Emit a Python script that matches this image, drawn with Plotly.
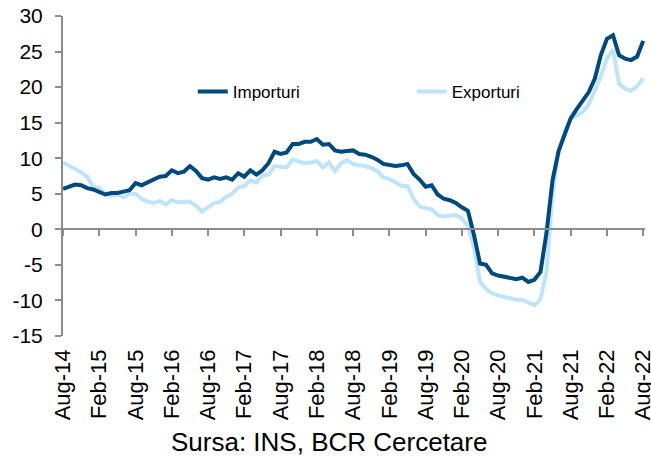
import plotly.graph_objects as go

# monthly categories Aug-14 .. Aug-22
month_names = ["Jan", "Feb", "Mar", "Apr", "May", "Jun", "Jul", "Aug", "Sep", "Oct", "Nov", "Dec"]
months = [f"{month_names[(7 + k) % 12]}-{14 + (7 + k) // 12}" for k in range(97)]

importuri = [5.7, 6.0, 6.3, 6.2, 5.8, 5.6, 5.3, 4.9, 5.1, 5.1,
             5.3, 5.5, 6.5, 6.2, 6.6, 7.0, 7.4, 7.5, 8.3, 7.9,
             8.1, 8.9, 8.2, 7.2, 7.0, 7.3, 7.1, 7.3, 7.0, 7.9,
             7.4, 8.3, 7.7, 8.3, 9.3, 10.9, 10.6, 10.8, 12.0, 12.0,
             12.3, 12.3, 12.7, 11.9, 12.0, 11.1, 10.9, 11.0, 11.1, 10.6,
             10.5, 10.2, 9.8, 9.2, 9.0, 8.9, 9.0, 9.2, 7.8, 7.0,
             6.0, 6.2, 4.9, 4.3, 4.1, 3.7, 3.1, 2.6, -0.8, -4.8,
             -5.0, -6.2, -6.5, -6.7, -6.8, -7.0, -6.8, -7.4, -7.1, -6.0,
             -0.5, 6.9, 11.0, 13.5, 15.6, 16.9, 18.0, 19.3, 21.2, 24.5,
             26.8, 27.3, 24.5, 24.0, 23.8, 24.3, 26.5]

exporturi = [9.4, 9.0, 8.5, 8.0, 7.4, 6.0, 5.8, 5.0, 4.7, 4.9,
             4.5, 5.0, 5.0, 4.3, 3.9, 3.7, 4.0, 3.5, 4.1, 3.8,
             3.9, 3.9, 3.3, 2.5, 3.1, 3.7, 3.9, 4.6, 5.0, 5.9,
             6.1, 6.9, 6.6, 7.6, 7.7, 8.9, 8.8, 8.7, 9.8, 9.5,
             9.3, 9.4, 9.6, 8.7, 9.4, 8.2, 9.3, 9.7, 9.2, 9.0,
             8.9, 8.6, 8.2, 7.3, 7.1, 6.6, 6.1, 6.1, 4.3, 3.2,
             3.0, 2.8, 2.0, 1.8, 1.9, 2.0, 1.5, 0.5, -2.6, -7.4,
             -8.4, -9.0, -9.3, -9.5, -9.8, -9.9, -9.9, -10.3, -10.7, -9.8,
             -6.0, 5.0, 10.8, 13.8, 15.5, 16.0, 16.5, 17.6, 19.4, 21.5,
             24.0, 25.3, 20.5, 19.8, 19.5, 20.1, 21.2]

tick_labels = ["Aug-14", "Feb-15", "Aug-15", "Feb-16", "Aug-16", "Feb-17",
               "Aug-17", "Feb-18", "Aug-18", "Feb-19", "Aug-19", "Feb-20",
               "Aug-20", "Feb-21", "Aug-21", "Feb-22", "Aug-22"]

y_ticks = [-15, -10, -5, 0, 5, 10, 15, 20, 25, 30]
y_tick_text = ["-15", "-10", "-5", "0", "5", "10", "15", "20", "25", "30"]

xs = list(range(len(months)))
tick_vals = [xs[months.index(lbl)] for lbl in tick_labels]

FONT = "Liberation Sans, Arial, sans-serif"
GRAY = "#8c8c8c"
x_range = [0, len(months) - 1 + 0.3]

fig = go.Figure()
fig.add_trace(go.Scatter(x=xs, y=exporturi, name="Exporturi", mode="lines",
                         line=dict(color="#bfe4f9", width=4), legendrank=2))
fig.add_trace(go.Scatter(x=xs, y=importuri, name="Importuri", mode="lines",
                         line=dict(color="#00497c", width=4), legendrank=1))
# helper trace so the zero-level axis is drawn
fig.add_trace(go.Scatter(x=[xs[0], xs[-1]], y=[None, None], xaxis="x2",
                         showlegend=False, hoverinfo="skip", mode="lines"))

fig.update_layout(
    template="none",
    width=651, height=459,
    margin=dict(l=63, r=6, t=16, b=123, autoexpand=False),
    paper_bgcolor="white", plot_bgcolor="white",
    font=dict(family=FONT, color="black"),
    showlegend=True,
    legend=dict(orientation="h", x=0.223, y=0.7625, xanchor="left", yanchor="middle",
                font=dict(size=17, family=FONT), entrywidth=174, entrywidthmode="pixels",
                bgcolor="rgba(0,0,0,0)", borderwidth=0),
    xaxis=dict(range=x_range, tickvals=tick_vals, ticktext=tick_labels,
               tickangle=-90, ticks="", showline=False, showgrid=False, zeroline=False,
               tickfont=dict(size=22, family=FONT), ticklabelstandoff=8, automargin=False,
               ticklabeloverflow="allow"),
    xaxis2=dict(overlaying="x", anchor="free", position=1/3, side="bottom",
                range=x_range, tickvals=tick_vals, showticklabels=False,
                showline=True, linecolor=GRAY, linewidth=2, ticks="outside",
                ticklen=6, tickwidth=2, tickcolor=GRAY, showgrid=False, zeroline=False,
                automargin=False),
    yaxis=dict(range=[-15, 30], tickvals=y_ticks, ticktext=y_tick_text,
               showgrid=False, zeroline=False,
               showline=True, linecolor=GRAY, linewidth=2, ticks="outside",
               ticklen=6, tickwidth=2, tickcolor=GRAY,
               tickfont=dict(size=21, family=FONT), ticklabelstandoff=8, automargin=False),
    annotations=[dict(text="Sursa: INS, BCR Cercetare", xref="paper", yref="paper",
                      x=0.457, y=-0.33, xanchor="center", yanchor="middle",
                      showarrow=False, font=dict(size=26, family=FONT))],
)

fig.write_html("out.html", config={"displayModeBar": False},
               post_script="document.body.style.margin='0';document.body.style.padding='0';"
                           "document.body.style.overflow='hidden';")
